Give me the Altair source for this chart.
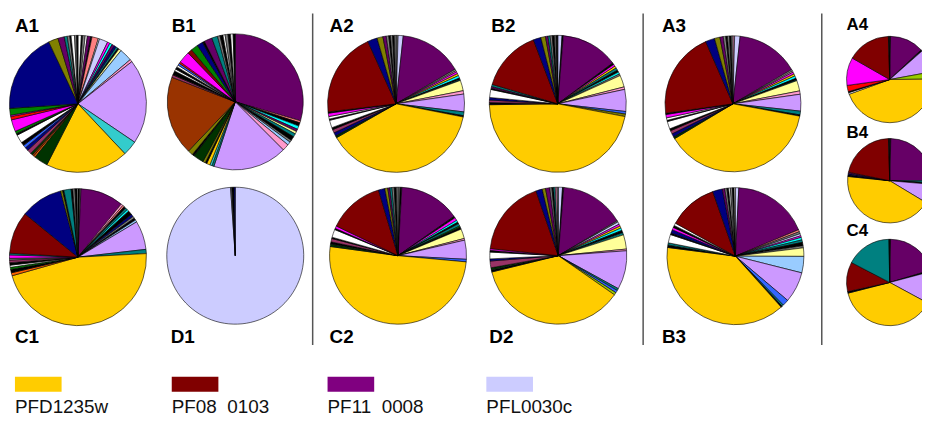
import altair as alt
import pandas as pd

# ---- colour names ----
Y = "#FFCC00"; DR = "#800000"; PU = "#660066"; LV = "#CC99FF"; LL = "#CCCCFF"
NV = "#000080"; OL = "#808000"; TL = "#008080"; DG = "#003300"; GR = "#008000"
MG = "#FF00FF"; CY = "#33CCCC"; BC = "#00FFFF"; LB = "#99CCFF"; LY = "#FFFF99"
PK = "#FF99CC"; SA = "#FF8080"; W = "#FFFFFF"; BK = "#000000"; GY = "#808080"
BR = "#993300"; BL = "#3366FF"; RD = "#FF0000"; LG = "#99CC00"; MV = "#993366"
OR = "#FF6600"

# ---- slices (colour, percent), clockwise from 12 o'clock ----
A1 = [(W, 0.8), (BK, 0.3), (GY, 0.6), (W, 0.5), (PU, 0.8), (BK, 0.3), (SA, 1.5), (W, 0.3),
      (LL, 2.0), (MG, 0.6), (BC, 0.6), (PU, 0.6), (NV, 0.5), (TL, 0.5), (BK, 0.3), (LY, 0.6),
      (LB, 3.0), (PK, 0.6), (LV, 20.0), (CY, 3.5), (Y, 19.5), (DG, 3.3),
      (OR, 0.4), (BR, 0.4), (DG, 0.5), (MV, 1.0), (NV, 0.8), (BL, 0.7), (BK, 0.8), (W, 2.0),
      (BK, 0.4), (GR, 0.6), (MG, 2.8), (RD, 0.8), (MG, 0.3), (GR, 1.6),
      (NV, 19.0), (OL, 2.3), (PU, 1.5), (TL, 0.7), (GY, 0.6), (BK, 0.3), (W, 0.8), (GY, 0.5), (BK, 0.3)]
B1 = [(PU, 29.5), (SA, 0.5), (BK, 0.8), (BC, 0.8), (PU, 0.6), (LY, 0.6), (TL, 0.8), (BK, 1.0),
      (GY, 0.5), (LB, 0.8), (PK, 1.6), (LV, 17.6), (TL, 0.5), (CY, 0.5), (Y, 0.8), (BK, 0.4),
      (OL, 0.6), (DG, 2.5), (BK, 0.5), (OL, 1.2), (BR, 18.8),
      (MV, 0.6), (BK, 1.0), (W, 0.5), (BK, 0.6), (W, 0.5), (BL, 0.5), (RD, 0.4), (MG, 2.8),
      (DR, 1.1), (GR, 1.7), (NV, 1.4), (BK, 0.5), (PU, 1.9), (TL, 1.4), (GY, 0.6), (BK, 0.7),
      (W, 0.5), (GY, 0.7), (BK, 0.6), (W, 0.6), (BK, 0.5)]
C1 = [(BK, 0.4), (GY, 0.3), (PU, 10.2), (PK, 0.5), (SA, 0.4), (BK, 0.5), (TL, 0.5), (BC, 0.5),
      (BK, 1.0), (NV, 0.6), (GY, 0.5), (BK, 0.5), (LB, 0.5), (LV, 6.8), (TL, 1.0), (Y, 46.5),
      (OR, 0.7), (BK, 0.8), (GR, 0.5), (W, 0.5), (BK, 0.6), (MV, 0.6), (GY, 0.4), (MG, 0.8),
      (TL, 0.4), (DR, 10.0), (NV, 10.0), (OL, 0.5), (BK, 0.3), (TL, 1.7), (BK, 0.4), (GY, 0.5),
      (BK, 0.5), (W, 0.2)]
D1 = [(LL, 98.9), (GY, 0.3), (BK, 0.5), (NV, 0.3)]
A2 = [(GY, 0.5), (LL, 1.2), (PU, 15.0), (GY, 0.4), (PK, 0.3), (MG, 0.5), (Y, 0.5), (BC, 0.6),
      (BK, 0.4), (TL, 0.2), (LY, 2.5), (PK, 0.8), (LV, 4.2), (TL, 0.9), (BK, 0.3), (Y, 39.0),
      (DG, 0.5), (NV, 0.8), (MV, 0.8), (BK, 0.5), (W, 1.8), (BK, 0.3), (W, 0.6), (MG, 0.8),
      (BK, 0.3), (DR, 20.3), (NV, 2.3), (OL, 1.4), (PU, 0.8), (GY, 0.6), (BK, 0.4), (GY, 0.5),
      (BK, 0.4), (GY, 0.4)]
B2 = [(LL, 1.0), (BK, 0.3), (PU, 13.6), (BK, 0.4), (MG, 0.5), (Y, 0.5), (TL, 0.6), (BK, 0.5),
      (BC, 0.5), (GY, 0.4), (LY, 2.8), (PK, 0.6), (LV, 5.2), (BL, 0.6), (OL, 0.6), (Y, 47.0),
      (BK, 0.5), (MV, 0.6), (NV, 0.6), (W, 1.9), (BK, 0.3), (PU, 0.4), (TL, 0.5), (DR, 14.7),
      (NV, 1.8), (OL, 1.1), (PU, 0.6), (TL, 0.5), (GY, 0.5), (BK, 0.5), (GY, 0.4), (BK, 0.4)]
A3 = [(PK, 0.4), (LL, 1.3), (PU, 15.0), (GY, 0.4), (PK, 0.3), (MG, 0.5), (Y, 0.5), (BC, 0.6),
      (BK, 0.4), (TL, 0.2), (LY, 2.5), (PK, 0.8), (LV, 4.0), (TL, 0.9), (BK, 0.3), (Y, 38.8),
      (DG, 0.5), (NV, 0.8), (MV, 0.8), (BK, 0.5), (W, 1.8), (BK, 0.3), (W, 0.6), (MG, 0.8),
      (BK, 0.3), (DR, 20.8), (NV, 2.2), (OL, 1.3), (PU, 0.8), (GY, 0.6), (BK, 0.4), (GY, 0.5),
      (BK, 0.4), (GY, 0.4)]
C2 = [(GY, 0.5), (BK, 0.4), (PU, 14.4), (BK, 0.4), (MG, 0.7), (BC, 0.5), (BK, 0.4), (TL, 0.6),
      (GR, 0.3), (BK, 0.5), (LY, 2.3), (PK, 0.4), (LV, 4.5), (BL, 0.6), (Y, 50.8),
      (DG, 0.6), (BK, 0.5), (MV, 0.8), (BK, 0.3), (W, 1.9), (BK, 0.3), (MG, 0.6),
      (DR, 13.3), (NV, 1.5), (OL, 0.7), (PU, 0.5), (TL, 0.5), (GY, 0.5), (BK, 0.5), (GY, 0.4)]
D2 = [(LL, 1.0), (BK, 0.3), (PU, 15.3), (GY, 0.3), (LL, 0.6), (MG, 0.5), (Y, 0.5), (BC, 0.6),
      (BK, 0.6), (TL, 0.5), (LY, 3.4), (PK, 0.4), (LV, 9.2), (TL, 0.5), (BL, 0.6), (LG, 0.6),
      (Y, 36.7), (BK, 0.5), (DG, 0.5), (MV, 1.6), (NV, 0.5), (W, 1.6), (BK, 0.4), (MG, 0.4),
      (DR, 18.2), (NV, 1.5), (OL, 0.8), (PU, 1.0), (GY, 0.5), (BK, 0.4), (TL, 0.4), (PK, 0.4),
      (GY, 0.3)]
B3 = [(LL, 0.8), (PU, 18.0), (SA, 0.5), (GY, 0.5), (LL, 0.5), (MG, 0.4), (BC, 0.6), (TL, 0.6),
      (BK, 0.8), (GY, 0.5), (LY, 2.0), (LB, 3.9), (LV, 7.3), (BL, 1.5), (TL, 0.4), (BK, 0.3),
      (Y, 38.9), (BK, 0.6), (TL, 0.5), (W, 2.0), (BK, 0.4), (NV, 0.8), (MG, 0.6), (BK, 0.5),
      (W, 0.6), (DR, 11.7), (NV, 2.3), (PU, 0.6), (GY, 0.5), (BK, 0.4), (W, 0.4), (GY, 0.5),
      (BK, 0.4), (W, 0.3)]
A4 = [(BK, 0.3), (PU, 12.5), (BK, 0.5), (LV, 8.5), (LG, 2.7), (Y, 44.0), (W, 0.6), (BK, 0.4),
      (RD, 2.3), (MG, 10.3), (DR, 16.0), (BK, 0.5)]
B4 = [(BK, 0.4), (PU, 24.4), (BC, 0.6), (TL, 0.4), (BK, 0.4), (LV, 7.2), (Y, 42.7), (BK, 0.6),
      (NV, 0.5), (PU, 0.5), (DR, 21.1), (BK, 0.5)]
C4 = [(BK, 0.3), (PU, 20.0), (BK, 0.5), (LV, 12.0), (Y, 38.0), (BK, 0.6), (DR, 11.0),
      (TL, 17.0), (BK, 0.3)]

pies = {"A1": A1, "B1": B1, "C1": C1, "D1": D1, "A2": A2, "B2": B2, "C2": C2, "D2": D2,
        "A3": A3, "B3": B3, "A4": A4, "B4": B4, "C4": C4}

# ---- layout (page pixels): centre x, centre y, radius, label x, label baseline, label size ----
layout = {
    "A1": (78.5, 103, 69, 15, 31, 19), "B1": (237, 101, 68.5, 173, 31, 19),
    "C1": (78.5, 257.5, 69, 15, 344, 19), "D1": (237, 256, 69, 172, 344, 19),
    "A2": (399, 103, 69, 332, 31, 19), "B2": (562, 103, 69, 495, 31, 19),
    "C2": (401, 256, 69, 332, 344, 19), "D2": (562.5, 256, 69, 493, 344, 19),
    "A3": (738.5, 103, 68.5, 667, 31, 19), "B3": (741, 256.5, 69, 667, 344, 19),
    "A4": (896.5, 78.5, 43.5, 853, 29, 17), "B4": (896.5, 180.5, 42.5, 853, 137, 17),
    "C4": (896.5, 283, 43.5, 853, 236, 17),
}
separators_x = [315, 648, 828]

legend_names = ["PFD1235w", "PF08\u00a0\u00a00103", "PF11\u00a0\u00a00008", "PFL0030c"]
legend_colors = ["#FFCC00", "#800000", "#800080", "#CCCCFF"]
legend_x = [15, 173, 330, 490]

OFF = 8  # page margin
FONT = "Liberation Sans, Arial, sans-serif"

layers = []
for name, slices in pies.items():
    cx, cy, r, lx, ly, fs = layout[name]
    df = pd.DataFrame({"idx": list(range(len(slices))),
                       "color": [c for c, v in slices],
                       "value": [v for c, v in slices]})
    layers.append(
        alt.Chart(df).mark_arc(radius=r, stroke="#000000", strokeWidth=0.6, clip=True).encode(
            theta=alt.Theta("value:Q", stack=True),
            color=alt.Color("color:N", scale=None),
            order=alt.Order("idx:Q", sort="ascending"),
            x=alt.value(cx - OFF), y=alt.value(cy - OFF),
        )
    )

lab_df = pd.DataFrame({
    "label": list(layout.keys()),
    "x": [v[3] - OFF for v in layout.values()],
    "y": [v[4] - OFF for v in layout.values()],
    "size": [v[5] for v in layout.values()],
})
labels = alt.Chart(lab_df).mark_text(align="left", baseline="alphabetic", font=FONT,
                                     fontWeight="bold", color="black").encode(
    x=alt.X("x:Q", scale=None), y=alt.Y("y:Q", scale=None),
    text="label:N", size=alt.Size("size:Q", scale=None))

rules = [alt.Chart(pd.DataFrame({"x": [sx - OFF]})).mark_rule(color="#555555", strokeWidth=1.5).encode(
    x=alt.X("x:Q", scale=None), y=alt.value(12 - OFF), y2=alt.value(346 - OFF)) for sx in separators_x]

leg_df = pd.DataFrame({"name": legend_names, "color": legend_colors,
                       "x": [v - OFF for v in legend_x]})
leg_df["x2"] = leg_df["x"] + 47
leg_rect = alt.Chart(leg_df).mark_rect().encode(
    x=alt.X("x:Q", scale=None), x2="x2:Q",
    y=alt.value(378 - OFF), y2=alt.value(393 - OFF),
    color=alt.Color("color:N", scale=None))
leg_text = alt.Chart(leg_df).mark_text(align="left", baseline="alphabetic", font=FONT,
                                       fontSize=19, color="#111111").encode(
    x=alt.X("x:Q", scale=None), y=alt.value(415 - OFF), text="name:N")

chart = alt.layer(*layers, labels, *rules, leg_rect, leg_text).resolve_scale(
    theta="independent").properties(
    width=921, height=412, padding=0, autosize=alt.AutoSizeParams(type="none"),
).configure_view(stroke=None)

chart.save("out.html", embed_options={"renderer": "svg", "actions": False})
